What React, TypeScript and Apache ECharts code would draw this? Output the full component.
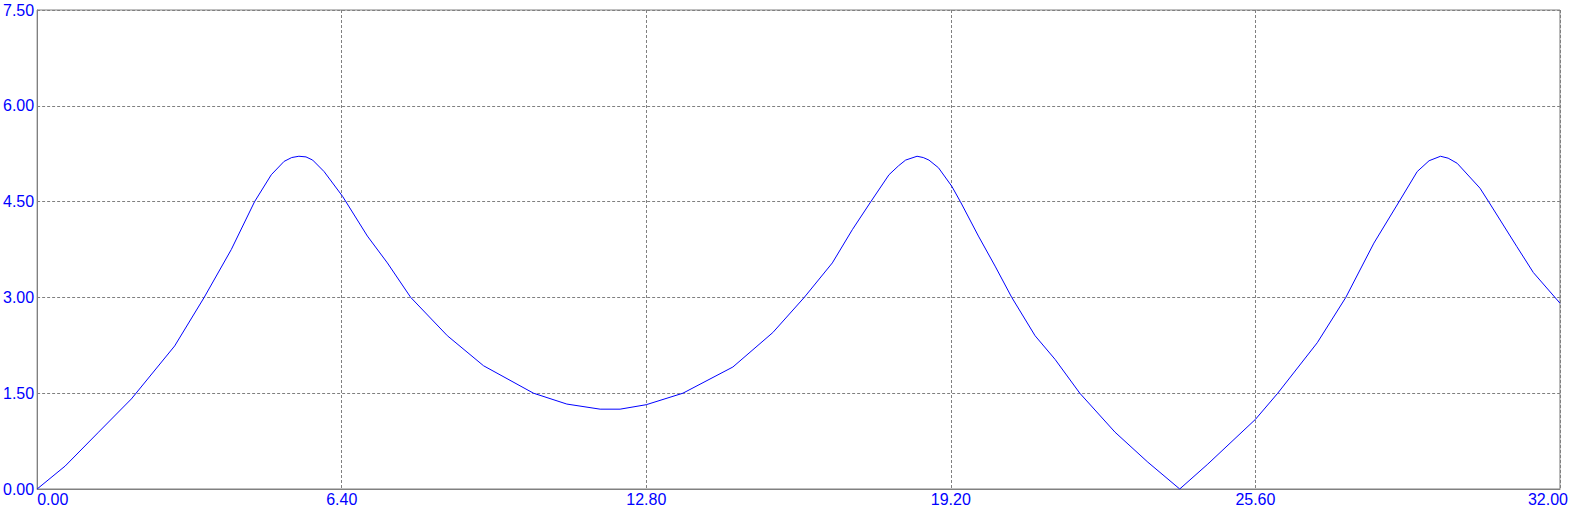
import React, { useEffect, useRef } from "react";
import * as echarts from "echarts";

const xValues = [
  0, 0.59, 1.29, 1.98, 2.89, 3.51, 4.08, 4.57, 4.92, 5.19, 5.35, 5.5, 5.65, 5.79, 6.03, 6.42, 6.94,
  7.36, 7.85, 8.62, 9.38, 10.43, 11.13, 11.83, 12.25, 12.8, 13.57, 14.62, 15.46, 16.12, 16.71,
  17.13, 17.52, 17.9, 18.1, 18.25, 18.49, 18.62, 18.74, 18.94, 19.22, 19.4, 19.78, 20.13, 20.48,
  20.97, 21.39, 21.91, 22.65, 23.34, 24.01, 24.6, 25.6, 26.07, 26.9, 27.5, 28.09, 28.62, 29.0,
  29.25, 29.49, 29.65, 29.84, 30.32, 30.5, 31.09, 31.44, 32.0,
];
const yValues = [
  0, 0.36, 0.89, 1.41, 2.24, 3.0, 3.75, 4.5, 4.92, 5.13, 5.19, 5.21, 5.2, 5.15, 4.97, 4.58, 3.96,
  3.54, 3.0, 2.4, 1.93, 1.5, 1.33, 1.25, 1.25, 1.32, 1.5, 1.91, 2.45, 3.0, 3.54,
  4.06, 4.5, 4.92, 5.06, 5.15, 5.21, 5.19, 5.15, 5.03, 4.74, 4.5, 3.96, 3.49, 3.0,
  2.4, 2.03, 1.5, 0.89, 0.42, 0, 0.39, 1.09, 1.5, 2.29, 3.0, 3.85, 4.5, 4.97,
  5.14, 5.21, 5.18, 5.1, 4.71, 4.5, 3.8, 3.39, 2.91,
];
const xTicks = [0, 6.4, 12.8, 19.2, 25.6, 32];
const yTicks = [0, 1.5, 3, 4.5, 6, 7.5];

export default function App() {
  const ref = useRef<HTMLDivElement>(null);
  useEffect(() => {
    if (!ref.current) return;
    const chart = echarts.init(ref.current, null, { renderer: "svg" });
    const labelColor = "#0000FF";
    const font = "'Liberation Sans', Arial, sans-serif";
    const gray = "#808080";
    const xMax = xTicks[xTicks.length - 1];
    chart.setOption({
      animation: false,
      backgroundColor: "#ffffff",
      grid: {
        left: 35,
        top: 10,
        right: 8,
        bottom: 17,
        show: true,
        borderColor: gray,
        borderWidth: 1,
        containLabel: false,
      },
      xAxis: {
        type: "value",
        min: xTicks[0],
        max: xMax,
        interval: xTicks[1] - xTicks[0],
        axisLine: { show: true, lineStyle: { color: gray, width: 1 } },
        axisTick: { show: false },
        splitLine: { show: true, lineStyle: { color: gray, type: [3, 2], width: 1 } },
        axisLabel: {
          color: labelColor,
          fontFamily: font,
          fontSize: 16,
          margin: 2,
          alignMinLabel: "left",
          alignMaxLabel: "right",
          formatter: (v: number) => (v === xMax ? "{r|" + v.toFixed(2) + "}" : v.toFixed(2)),
          rich: {
            r: { color: labelColor, fontFamily: font, fontSize: 16, width: 32, align: "left" },
          },
        },
      },
      yAxis: {
        type: "value",
        min: yTicks[0],
        max: yTicks[yTicks.length - 1],
        interval: yTicks[1] - yTicks[0],
        axisLine: { show: true, lineStyle: { color: gray, width: 1 } },
        axisTick: { show: false },
        splitLine: { show: true, lineStyle: { color: gray, type: [3, 2], width: 1 } },
        axisLabel: {
          color: labelColor,
          fontFamily: font,
          fontSize: 16,
          margin: 3,
          formatter: (v: number) => v.toFixed(2),
        },
      },
      series: [
        {
          type: "line",
          data: xValues.map((x, i) => [x, yValues[i]]),
          showSymbol: false,
          smooth: false,
          lineStyle: { color: "#0000FF", width: 1 },
          clip: true,
        },
      ],
    });
    return () => chart.dispose();
  }, []);
  return (
    <div
      ref={ref}
      style={{ position: "fixed", left: 0, top: 0, width: 1571, height: 507, background: "#fff" }}
    />
  );
}
